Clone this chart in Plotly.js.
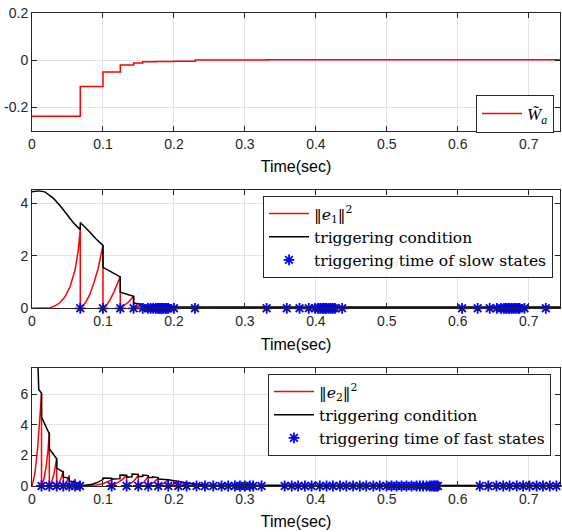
<!DOCTYPE html>
<html>
<head>
<meta charset="utf-8">
<script src="https://cdn.plot.ly/plotly-3.0.1.min.js"></script>
<style>html,body{margin:0;padding:0;background:#fff;}#chart{width:562px;height:532px;}</style>
</head>
<body>
<div id="chart"></div>
<script>
// ---- Panel 1: weight estimation error W~a (step function)
const wT   = [0, 0.068, 0.1, 0.1244, 0.1432, 0.156, 0.175, 0.2, 0.23, 0.331, 0.744];
const wVal = [-0.237, -0.111, -0.050, -0.020, -0.0115, -0.0065, -0.005, -0.004, 0.0005, 0.002, 0.002];

// ---- Panel 2: ||e1||^2, triggering condition, slow-state trigger times
const e1T = [0, 0.02, 0.0254, 0.0324, 0.0394, 0.0465, 0.0535, 0.0606, 0.0652, 0.068, 0.068,
             0.075, 0.081, 0.087, 0.093, 0.1, 0.1,
             0.105, 0.11, 0.115, 0.12, 0.1244, 0.1244,
             0.13, 0.136, 0.1432, 0.1432,
             0.149, 0.156, 0.156, 0.2, 0.3, 0.744];
const e1V = [0, 0, 0.02, 0.09, 0.21, 0.44, 0.82, 1.45, 2.21, 3.0, 0,
             0.2, 0.5, 0.95, 1.5, 2.4, 0,
             0.12, 0.32, 0.6, 0.92, 1.2, 0,
             0.1, 0.24, 0.46, 0,
             0.06, 0.15, 0, 0.01, 0.02, 0.02];
const cond1T = [0, 0.009, 0.018, 0.025, 0.03, 0.04, 0.05, 0.058, 0.068, 0.068, 0.08, 0.09, 0.1, 0.1,
                0.1244, 0.1244, 0.1432, 0.1432, 0.156, 0.156, 0.17, 0.2, 0.744];
const cond1V = [4.44, 4.48, 4.44, 4.3, 4.2, 3.9, 3.55, 3.27, 3.0, 3.27, 2.95, 2.65, 2.4, 1.56,
                1.2, 0.61, 0.46, 0.2, 0.15, 0.08, 0.06, 0.05, 0.05];
const slowT = [0.068, 0.1, 0.1244, 0.1432, 0.156, 0.1634, 0.1672, 0.1708, 0.1746, 0.1775, 0.1793,
               0.1813, 0.1831, 0.185, 0.1877, 0.1897, 0.192, 0.2, 0.2296, 0.3306, 0.359, 0.377,
               0.390, 0.399, 0.403, 0.406, 0.409, 0.411, 0.413, 0.415, 0.418, 0.421, 0.424, 0.427,
               0.437, 0.606, 0.628, 0.645, 0.655, 0.661, 0.665, 0.668, 0.671, 0.673, 0.676, 0.679,
               0.682, 0.685, 0.687, 0.694, 0.724];

// ---- Panel 3: ||e2||^2, triggering condition, fast-state trigger times
const e2T = [0, 0.004, 0.008, 0.011, 0.0134, 0.0134,
             0.017, 0.02, 0.0225, 0.0244, 0.0244,
             0.028, 0.031, 0.0348, 0.0348,
             0.038, 0.041, 0.0441, 0.0441,
             0.047, 0.05, 0.0525, 0.0525,
             0.056, 0.058, 0.0606, 0.0606,
             0.064, 0.0676, 0.0676,
             0.08, 0.09, 0.1, 0.106, 0.1122, 0.1122,
             0.117, 0.122, 0.128, 0.1333, 0.1333,
             0.138, 0.143, 0.1498, 0.1498,
             0.154, 0.158, 0.1638, 0.1638,
             0.168, 0.172, 0.1779, 0.1779,
             0.182, 0.186, 0.192, 0.192,
             0.196, 0.2, 0.2061, 0.2061,
             0.212, 0.2178, 0.2178,
             0.225, 0.2319, 0.2319, 0.744];
const e2V = [0, 0.8, 2.5, 4.3, 6.0, 0,
             0.5, 1.3, 2.3, 3.5, 0,
             0.3, 0.8, 1.8, 0,
             0.2, 0.5, 1.0, 0,
             0.15, 0.38, 0.7, 0,
             0.1, 0.22, 0.45, 0,
             0.1, 0.28, 0,
             0.02, 0.06, 0.15, 0.26, 0.4, 0,
             0.1, 0.25, 0.45, 0.72, 0,
             0.12, 0.3, 0.68, 0,
             0.12, 0.28, 0.6, 0,
             0.1, 0.24, 0.5, 0,
             0.08, 0.18, 0.4, 0,
             0.06, 0.13, 0.3, 0,
             0.08, 0.2, 0,
             0.04, 0.1, 0, 0.01];
const cond2T = [0, 0.008, 0.0095, 0.0134, 0.0134, 0.0244, 0.0244, 0.0348, 0.0348, 0.0441, 0.0441,
                0.0525, 0.0525, 0.0606, 0.0606, 0.0676, 0.0676, 0.075, 0.085, 0.093, 0.1, 0.1,
                0.1122, 0.1122, 0.124, 0.124, 0.1333, 0.1333, 0.141, 0.141, 0.1498, 0.1498, 0.156,
                0.156, 0.1638, 0.1638, 0.17, 0.17, 0.1779, 0.1779, 0.192, 0.2061, 0.2178, 0.2319,
                0.25, 0.744];
const cond2V = [9.0, 8.5, 6.3, 6.05, 4.5, 3.4, 2.43, 1.78, 1.17, 0.91, 0.59,
                0.5, 0.33, 0.26, 0.17, 0.13, 0.05, 0.05, 0.12, 0.25, 0.42, 0.52,
                0.5, 0.45, 0.48, 0.72, 0.7, 0.58, 0.6, 0.78, 0.75, 0.62, 0.62,
                0.72, 0.68, 0.55, 0.55, 0.6, 0.55, 0.45, 0.4, 0.3, 0.2, 0.1,
                0.05, 0.03];
const fastT = [0.0134, 0.0244, 0.0348, 0.0441, 0.0525, 0.0606, 0.0676, 0.1122, 0.1333, 0.1498,
               0.1638, 0.1779, 0.192, 0.2061, 0.2178, 0.2319, 0.2437, 0.2554, 0.2671, 0.2765,
               0.2859, 0.293, 0.3, 0.307, 0.3117, 0.3235, 0.356, 0.366, 0.375, 0.3845, 0.394,
               0.4056, 0.415, 0.424, 0.434, 0.443, 0.4525, 0.462, 0.471, 0.481, 0.49, 0.4996,
               0.5066, 0.5137, 0.5207, 0.5277, 0.5348, 0.5418, 0.5465, 0.551, 0.556, 0.5606,
               0.5634, 0.566, 0.568, 0.570, 0.572, 0.631, 0.643, 0.6545, 0.664, 0.673, 0.683,
               0.692, 0.701, 0.711, 0.720, 0.7296, 0.739];

const xTicks = [0, 0.1, 0.2, 0.3, 0.4, 0.5, 0.6, 0.7];
const yTicks1 = [-0.2, 0, 0.2];
const yTickText1 = ['-0.2', '0', '0.2'];
const yTicks2 = [0, 2, 4];
const yTicks3 = [0, 2, 4, 6];

const legendTexts = {
  w: '<i>W̃</i><sub><i>a</i></sub>',
  e1: '‖<i>e</i><sub>1</sub>‖<sup>2</sup>',
  e2: '‖<i>e</i><sub>2</sub>‖<sup>2</sup>',
  cond: 'triggering condition',
  slow: 'triggering time of slow states',
  fast: 'triggering time of fast states'
};

const RED = '#ff0000', BLACK = '#000000', BLUE = '#0000ff';
const markerStyle = {symbol: 'asterisk-open', size: 9, color: BLUE, line: {color: BLUE, width: 1.8}};

const traces = [
  {x: wT, y: wVal, mode: 'lines', line: {color: RED, width: 1.5, shape: 'hv'}, name: legendTexts.w,
   xaxis: 'x', yaxis: 'y', legend: 'legend'},
  {x: e1T, y: e1V, mode: 'lines', line: {color: RED, width: 1.5}, name: legendTexts.e1,
   xaxis: 'x2', yaxis: 'y2', legend: 'legend2'},
  {x: cond1T, y: cond1V, mode: 'lines', line: {color: BLACK, width: 1.5}, name: legendTexts.cond,
   xaxis: 'x2', yaxis: 'y2', legend: 'legend2'},
  {x: slowT, y: slowT.map(() => 0), mode: 'markers', marker: markerStyle, name: legendTexts.slow,
   cliponaxis: false, xaxis: 'x2', yaxis: 'y2', legend: 'legend2'},
  {x: e2T, y: e2V, mode: 'lines', line: {color: RED, width: 1.5}, name: legendTexts.e2,
   xaxis: 'x3', yaxis: 'y3', legend: 'legend3'},
  {x: cond2T, y: cond2V, mode: 'lines', line: {color: BLACK, width: 1.5}, name: legendTexts.cond,
   xaxis: 'x3', yaxis: 'y3', legend: 'legend3'},
  {x: fastT, y: fastT.map(() => 0), mode: 'markers', marker: markerStyle, name: legendTexts.fast,
   cliponaxis: false, xaxis: 'x3', yaxis: 'y3', legend: 'legend3'}
];

const W = 562, H = 532;
const xDom = [32 / W, 560 / W];
function yDom(top, bottom) { return [1 - bottom / H, 1 - top / H]; }

const tickFont = {family: 'Liberation Sans, Arial, sans-serif', size: 14, color: '#262626'};
function xAxis(anchor) {
  return {
    domain: xDom, anchor: anchor, range: [0, 0.744], tickvals: xTicks,
    ticks: 'inside', ticklen: 5, tickcolor: '#262626', tickwidth: 1,
    showline: true, linecolor: '#262626', linewidth: 1, mirror: 'ticks',
    showgrid: true, gridcolor: '#e3e3e3', gridwidth: 1, zeroline: false,
    tickfont: tickFont,
    title: {text: 'Time(sec)', font: {family: 'Liberation Sans, Arial, sans-serif', size: 16, color: '#000'}, standoff: 10}
  };
}
function yAxis(anchor, dom, range, tv, tt) {
  const a = {
    domain: dom, anchor: anchor, range: range, tickvals: tv,
    ticks: 'inside', ticklen: 5, tickcolor: '#262626', tickwidth: 1,
    showline: true, linecolor: '#262626', linewidth: 1, mirror: 'ticks',
    showgrid: true, gridcolor: '#e3e3e3', gridwidth: 1, zeroline: false,
    tickfont: tickFont
  };
  if (tt) a.ticktext = tt;
  return a;
}

const legFont = {family: 'DejaVu Serif, Liberation Serif, serif', size: 15.5, color: '#000'};
const legBase = {bgcolor: '#ffffff', bordercolor: '#262626', borderwidth: 1,
  font: legFont, itemwidth: 40, tracegroupgap: 0};

const layout = {
  width: W, height: H,
  margin: {l: 0, r: 0, t: 0, b: 0},
  paper_bgcolor: '#ffffff', plot_bgcolor: '#ffffff',
  showlegend: true,
  xaxis: xAxis('y'),
  yaxis: yAxis('x', yDom(13, 131), [-0.3, 0.2], yTicks1, yTickText1),
  xaxis2: xAxis('y2'),
  yaxis2: yAxis('x2', yDom(190.3, 308.3), [0, 4.5], yTicks2),
  xaxis3: xAxis('y3'),
  yaxis3: yAxis('x3', yDom(368, 486), [0, 7.7], yTicks3),
  legend: Object.assign({}, legBase, {x: 554 / W, xanchor: 'right', y: 1 - 95 / H, yanchor: 'top',
    font: {family: 'Liberation Serif, Times New Roman, serif', size: 17, color: '#000'}}),
  legend2: Object.assign({}, legBase, {x: 263 / W, xanchor: 'left', y: 1 - 196 / H, yanchor: 'top'}),
  legend3: Object.assign({}, legBase, {x: 268 / W, xanchor: 'left', y: 1 - 374 / H, yanchor: 'top'})
};

Plotly.newPlot('chart', traces, layout, {staticPlot: true, displayModeBar: false});
</script>
</body>
</html>
